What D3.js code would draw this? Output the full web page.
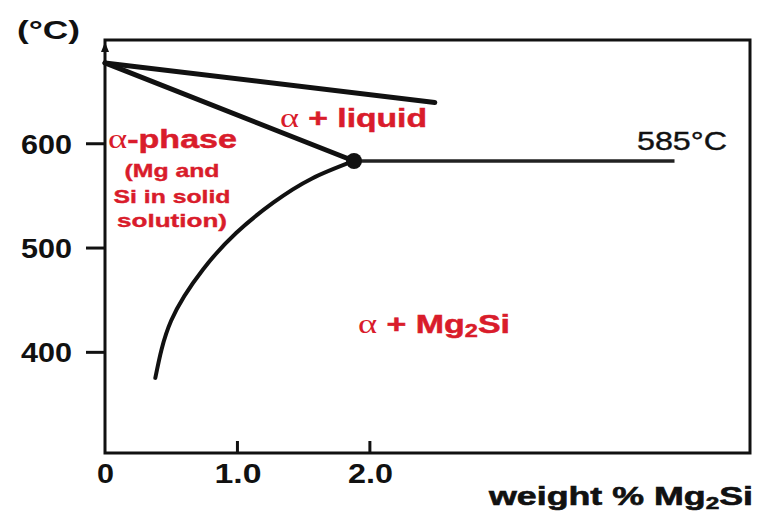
<!DOCTYPE html>
<html>
<head>
<meta charset="utf-8">
<script src="https://cdn.jsdelivr.net/npm/d3@7"></script>
<style>
  body { margin: 0; background: #fff; }
  text { font-family: "Liberation Sans", Arial, sans-serif; }
</style>
</head>
<body>
<div id="chart"></div>
<script>
const xTicks = [0, 1.0, 2.0];
const xTickLabels = ["0", "1.0", "2.0"];
const yTicks = [400, 500, 600];
const yTickLabels = ["400", "500", "600"];
const liquidus = [[0, 677], [2.49, 639]];
const solidus = [[0, 677], [1.88, 583]];
const eutectic = [[1.88, 583], [4.3, 583]];
const solvus = [[0.38, 375], [0.5, 430], [0.74, 479], [0.99, 514], [1.27, 543], [1.56, 566], [1.88, 583]];
const eutecticPoint = [1.88, 583];

const width = 761, height = 518;
const red = "#d91c2b";

const svg = d3.select("#chart").append("svg")
    .attr("width", width)
    .attr("height", height);

const x = d3.scaleLinear().domain([0, 4.87]).range([105, 750]);
const y = d3.scaleLinear().domain([303, 699]).range([453, 40]);

// marco
svg.append("rect")
    .attr("x", x(0)).attr("y", y(699))
    .attr("width", x(4.87) - x(0)).attr("height", y(303) - y(699))
    .attr("fill", "none").attr("stroke", "#111").attr("stroke-width", 3);

// flecha del eje y
svg.append("path")
    .attr("d", `M${x(0) - 4},${y(699) + 12} L${x(0)},${y(699) + 2} L${x(0) + 4},${y(699) + 12} Z`)
    .attr("fill", "#111");

// ticks y (hacia fuera)
const yAxis = d3.axisLeft(y).tickValues(yTicks).tickSize(19).tickPadding(14)
    .tickFormat((d, i) => yTickLabels[i]);
const gy = svg.append("g").attr("transform", `translate(${x(0)},0)`).call(yAxis);
gy.select(".domain").remove();
gy.selectAll("line").attr("stroke", "#111").attr("stroke-width", 3);
gy.selectAll("text")
    .attr("fill", "#111").attr("font-size", 28).attr("font-weight", "bold")
    .attr("dy", "0.36em")
    .attr("textLength", 51).attr("lengthAdjust", "spacingAndGlyphs");

// ticks x (hacia dentro)
const xAxis = d3.axisBottom(x).tickValues(xTicks).tickSize(0).tickPadding(0)
    .tickFormat((d, i) => xTickLabels[i]);
const gx = svg.append("g").attr("transform", `translate(0,${y(303)})`).call(xAxis);
gx.select(".domain").remove();
gx.selectAll("text")
    .attr("fill", "#111").attr("font-size", 28).attr("font-weight", "bold")
    .attr("y", 30).attr("dy", 0)
    .attr("textLength", (d, i) => [17, 47, 45][i]).attr("lengthAdjust", "spacingAndGlyphs");
svg.selectAll(".xtick").data(xTicks.filter(d => d > 0)).enter().append("line")
    .attr("x1", d => x(d)).attr("x2", d => x(d))
    .attr("y1", y(303)).attr("y2", y(303) - 12)
    .attr("stroke", "#111").attr("stroke-width", 3);

// curvas de fase
const line = d3.line().x(d => x(d[0])).y(d => y(d[1]));
const curve = d3.line().x(d => x(d[0])).y(d => y(d[1])).curve(d3.curveNatural);

svg.append("path").datum(liquidus).attr("d", line)
    .attr("fill", "none").attr("stroke", "#111").attr("stroke-width", 5).attr("stroke-linecap", "round");
svg.append("path").datum(solidus).attr("d", line)
    .attr("fill", "none").attr("stroke", "#111").attr("stroke-width", 5).attr("stroke-linecap", "round");
svg.append("path").datum(eutectic).attr("d", line)
    .attr("fill", "none").attr("stroke", "#222").attr("stroke-width", 3.5);
svg.append("path").datum(solvus).attr("d", curve)
    .attr("fill", "none").attr("stroke", "#111").attr("stroke-width", 4).attr("stroke-linecap", "round");
svg.append("circle")
    .attr("cx", x(eutecticPoint[0])).attr("cy", y(eutecticPoint[1]))
    .attr("r", 8).attr("fill", "#111");

// títulos de ejes
svg.append("text").attr("x", 17).attr("y", 39)
    .attr("font-size", 26).attr("font-weight", "bold").attr("fill", "#111")
    .attr("textLength", 63).attr("lengthAdjust", "spacingAndGlyphs")
    .text("(°C)");

const xt = svg.append("text").attr("x", 489).attr("y", 505)
    .attr("font-size", 25).attr("font-weight", "bold").attr("fill", "#111")
    .attr("stroke", "#111").attr("stroke-width", 0.6)
    .attr("textLength", 264).attr("lengthAdjust", "spacingAndGlyphs");
xt.append("tspan").text("weight % Mg");
xt.append("tspan").attr("font-size", 17).attr("dy", 4).text("2");
xt.append("tspan").attr("dy", -4).text("Si");

// etiqueta 585°C
svg.append("text").attr("x", 637).attr("y", 150)
    .attr("font-size", 26).attr("fill", "#111")
    .attr("stroke", "#111").attr("stroke-width", 0.4)
    .attr("textLength", 90).attr("lengthAdjust", "spacingAndGlyphs")
    .text("585°C");

// etiquetas de regiones
function alphaLabel(px, py, len) {
    const t = svg.append("text").attr("x", px).attr("y", py)
        .attr("fill", red).attr("font-size", 26).attr("font-weight", "bold")
        .attr("stroke", red).attr("stroke-width", 0.5)
        .attr("textLength", len).attr("lengthAdjust", "spacingAndGlyphs");
    t.append("tspan").attr("font-family", "Liberation Serif, serif").attr("font-weight", "normal")
        .attr("stroke-width", 0).attr("font-size", 28).text("α");
    return t;
}

alphaLabel(108, 148, 129).append("tspan").text("-phase");
const sub = [["(Mg and", 177, 95], ["Si in solid", 203, 117], ["solution)", 227, 110]];
sub.forEach(([s, py, len]) => {
    svg.append("text").attr("x", 172).attr("y", py).attr("text-anchor", "middle")
        .attr("fill", red).attr("font-size", 19).attr("font-weight", "bold")
        .attr("stroke", red).attr("stroke-width", 0.4)
        .attr("textLength", len).attr("lengthAdjust", "spacingAndGlyphs")
        .text(s);
});

alphaLabel(280, 127, 147).append("tspan").text(" + liquid");

const m = alphaLabel(358, 333, 152);
m.append("tspan").text(" + Mg");
m.append("tspan").attr("font-size", 18).attr("dy", 4).text("2");
m.append("tspan").attr("dy", -4).text("Si");
</script>
</body>
</html>
